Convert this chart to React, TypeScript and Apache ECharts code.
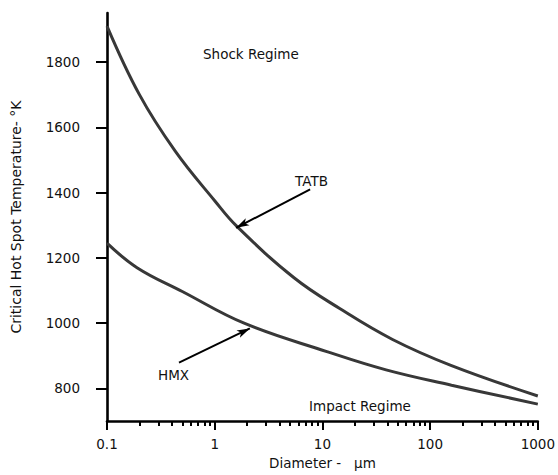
import React, { useEffect, useRef } from "react";
import * as echarts from "echarts";

const tatbDiam = [0.1, 0.2, 0.43, 1, 1.6, 5.45, 14.6, 44.8, 158, 1000];
const tatbTemp = [1910, 1700, 1527, 1375, 1297, 1139, 1044, 950, 870, 777];

const hmxDiam = [0.1, 0.19, 0.5, 1.9, 11, 39, 158, 1000];
const hmxTemp = [1245, 1170, 1097, 999, 913, 857, 810, 752];

const yTicks = [800, 1000, 1200, 1400, 1600, 1800];
const xMinorTicks = [
  0.2, 0.3, 0.4, 0.5, 0.6, 0.7, 0.8, 0.9,
  2, 3, 4, 5, 6, 7, 8, 9,
  20, 30, 40, 50, 60, 70, 80, 90,
  200, 300, 400, 500, 600, 700, 800, 900,
];

const tatbArrow = [[7.69, 1410], [1.58, 1292]];
const hmxArrow = [[0.466, 879], [2.12, 984]];

const FONT = "DejaVu Sans";

export default function App() {
  const ref = useRef<HTMLDivElement>(null);
  useEffect(() => {
    document.body.style.margin = "0";
    const chart = echarts.init(ref.current!, null, { renderer: "svg" });
    const lineStyle = { color: "#383838", width: 3 };
    const arrowLine = (pts: number[][]) => ({
      silent: true,
      symbol: ["none", "arrow"],
      symbolSize: [6, 13],
      label: { show: false },
      lineStyle: { color: "#000", width: 2, type: "solid" },
      data: [[{ coord: pts[0] }, { coord: pts[1] }]],
    });
    chart.setOption({
      animation: false,
      backgroundColor: "#fff",
      grid: { left: 107, right: 14, top: 13, bottom: 47 },
      xAxis: [
        {
          type: "log",
          logBase: 10,
          min: 0.1,
          max: 1000,
          name: "Diameter -\u00a0\u00a0\u00a0µm",
          nameLocation: "middle",
          nameGap: 27,
          nameTextStyle: { fontFamily: FONT, fontSize: 13.5, color: "#111" },
          axisLine: { onZero: false, lineStyle: { color: "#000", width: 2.6 } },
          axisTick: { show: true, inside: false, length: 9, lineStyle: { color: "#000", width: 2 } },
          axisLabel: {
            margin: 16,
            fontFamily: FONT,
            fontSize: 13.5,
            color: "#111",
            formatter: (v: number) => String(parseFloat(v.toPrecision(6))),
          },
          splitLine: { show: false },
          minorTick: { show: false },
        },
        {
          type: "value",
          min: -1,
          max: 3,
          position: "bottom",
          axisLine: { show: false, onZero: false },
          axisTick: {
            show: true,
            inside: false,
            length: 5,
            customValues: xMinorTicks.map((v) => Math.log10(v)),
            lineStyle: { color: "#000", width: 2 },
          },
          axisLabel: { show: false },
          splitLine: { show: false },
        },
      ],
      yAxis: {
        type: "value",
        min: 700,
        max: 1950,
        name: "Critical Hot Spot Temperature- °K",
        nameLocation: "middle",
        nameGap: 84,
        nameTextStyle: { fontFamily: FONT, fontSize: 14, color: "#111" },
        axisLine: { show: true, onZero: false, lineStyle: { color: "#000", width: 2.6 } },
        axisTick: {
          show: true,
          inside: false,
          length: 11,
          customValues: yTicks,
          lineStyle: { color: "#000", width: 2 },
        },
        axisLabel: {
          margin: 27,
          fontFamily: FONT,
          fontSize: 13.5,
          color: "#111",
          customValues: yTicks,
          formatter: (v: number) => String(v),
        },
        splitLine: { show: false },
      },
      graphic: [
        {
          type: "text",
          left: 203,
          top: 47,
          style: { text: "Shock Regime", font: `13.5px "${FONT}"`, fill: "#111" },
        },
        {
          type: "text",
          left: 309,
          top: 399,
          style: { text: "Impact Regime", font: `13.5px "${FONT}"`, fill: "#111" },
        },
        {
          type: "text",
          left: 295,
          top: 174,
          style: { text: "TATB", font: `13.5px "${FONT}"`, fill: "#111" },
        },
        {
          type: "text",
          left: 158,
          top: 368,
          style: { text: "HMX", font: `13.5px "${FONT}"`, fill: "#111" },
        },
      ],
      series: [
        {
          name: "TATB",
          type: "line",
          xAxisIndex: 0,
          smooth: 0.4,
          symbol: "none",
          lineStyle,
          data: tatbDiam.map((d, i) => [d, tatbTemp[i]]),
          markLine: arrowLine(tatbArrow),
        },
        {
          name: "HMX",
          type: "line",
          xAxisIndex: 0,
          smooth: 0.4,
          symbol: "none",
          lineStyle,
          data: hmxDiam.map((d, i) => [d, hmxTemp[i]]),
          markLine: arrowLine(hmxArrow),
        },
      ],
    });
    return () => chart.dispose();
  }, []);
  return <div ref={ref} style={{ width: 558, height: 475 }} />;
}
